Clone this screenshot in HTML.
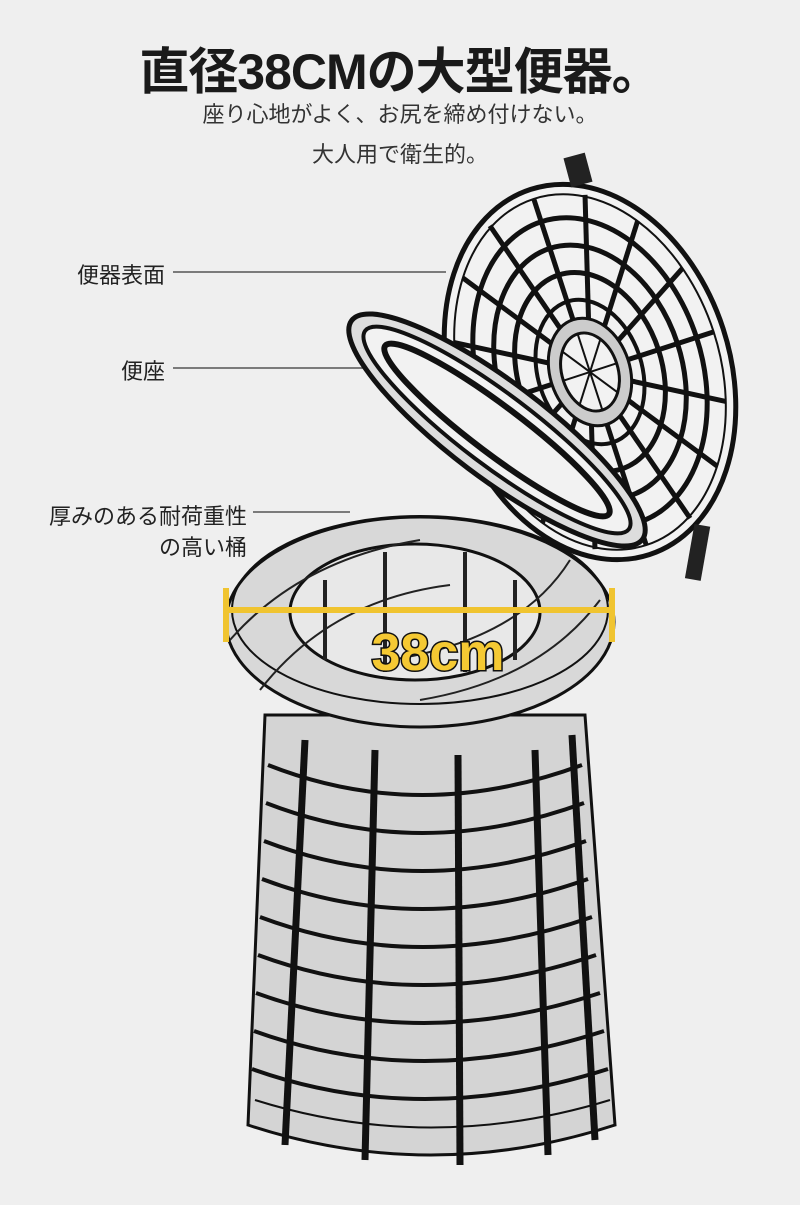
<!DOCTYPE html>
<html><head><meta charset="utf-8">
<style>
html,body{margin:0;padding:0;background:#efefef;}
body{width:800px;height:1205px;position:relative;overflow:hidden;font-family:"Liberation Sans","Noto Sans CJK JP",sans-serif;color:#222;}
.t{position:absolute;white-space:nowrap;}
</style></head><body>
<div class="t" style="left:0;width:800px;text-align:center;top:32px;font-size:50px;font-weight:bold;color:#1a1a1a;letter-spacing:-1px;">直径38CMの大型便器。</div>
<div class="t" style="left:0;width:800px;text-align:center;top:97px;font-size:22px;color:#333;">座り心地がよく、お尻を締め付けない。</div>
<div class="t" style="left:0;width:800px;text-align:center;top:137px;font-size:22px;color:#333;">大人用で衛生的。</div>
<div class="t" style="right:635px;top:258px;font-size:22px;">便器表面</div>
<div class="t" style="right:635px;top:354px;font-size:22px;">便座</div>
<div class="t" style="right:553px;top:499px;font-size:22px;">厚みのある耐荷重性</div>
<div class="t" style="right:553px;top:530px;font-size:22px;">の高い桶</div>
<svg width="800" height="1205" style="position:absolute;left:0;top:0" xmlns="http://www.w3.org/2000/svg">
<g stroke="#555" stroke-width="1.5">
<line x1="173" y1="272" x2="446" y2="272"/>
<line x1="173" y1="368" x2="368" y2="368"/>
<line x1="253" y1="512" x2="350" y2="512"/>
</g>
<!-- bucket body -->
<path d="M265,715 L248,1125 Q430,1185 615,1125 L585,715 Z" fill="#d4d4d4" stroke="#111" stroke-width="3"/>
<path d="M255,1100 Q430,1155 610,1100" fill="none" stroke="#111" stroke-width="2"/>
<g fill="none" stroke="#111" stroke-width="4">
<path d="M268,765 Q420,825 582,765"/>
<path d="M266,803 Q420,863 584,803"/>
<path d="M264,841 Q420,901 586,841"/>
<path d="M262,879 Q420,939 588,879"/>
<path d="M260,917 Q420,977 592,917"/>
<path d="M258,955 Q420,1015 596,955"/>
<path d="M256,993 Q420,1053 600,993"/>
<path d="M254,1031 Q420,1091 604,1031"/>
<path d="M252,1069 Q420,1129 608,1069"/>
</g>
<g stroke="#111" stroke-width="7">
<line x1="305" y1="740" x2="285" y2="1145"/>
<line x1="375" y1="750" x2="365" y2="1160"/>
<line x1="458" y1="755" x2="460" y2="1165"/>
<line x1="535" y1="750" x2="548" y2="1155"/>
<line x1="572" y1="735" x2="595" y2="1140"/>
</g>
<!-- rim -->
<ellipse cx="420" cy="622" rx="194" ry="105" fill="#d8d8d8" stroke="#111" stroke-width="3"/>
<ellipse cx="420" cy="610" rx="188" ry="94" fill="none" stroke="#111" stroke-width="2"/>
<ellipse cx="415" cy="612" rx="125" ry="68" fill="#e8e8e8" stroke="#111" stroke-width="3"/>
<g stroke="#222" stroke-width="4">
<line x1="385" y1="552" x2="385" y2="672"/>
<line x1="465" y1="552" x2="465" y2="672"/>
<line x1="325" y1="580" x2="325" y2="660"/>
<line x1="515" y1="580" x2="515" y2="660"/>
</g>
<g fill="none" stroke="#222" stroke-width="2">
<path d="M230,640 Q300,560 420,540"/>
<path d="M260,690 Q330,600 450,585"/>
<path d="M600,600 Q540,680 420,700"/>
<path d="M570,560 Q520,640 390,660"/>
</g>
<!-- lid -->
<g transform="translate(590,372) rotate(-18)">
<ellipse rx="140" ry="192" fill="#f2f2f2" stroke="#111" stroke-width="5"/>
<ellipse rx="130" ry="182" fill="none" stroke="#111" stroke-width="2"/>
<ellipse rx="112" ry="158" fill="none" stroke="#111" stroke-width="5"/>
<ellipse rx="92" ry="130" fill="none" stroke="#111" stroke-width="5"/>
<ellipse rx="72" ry="102" fill="none" stroke="#111" stroke-width="5"/>
<ellipse rx="52" ry="74" fill="none" stroke="#111" stroke-width="4"/>
<g stroke="#111" stroke-width="5">
<line x1="0" y1="-182" x2="0" y2="182"/>
<line x1="-130" y1="0" x2="130" y2="0"/>
<line x1="-92" y1="-129" x2="92" y2="129"/>
<line x1="92" y1="-129" x2="-92" y2="129"/>
<line x1="-120" y1="-70" x2="120" y2="70"/>
<line x1="120" y1="-70" x2="-120" y2="70"/>
<line x1="-50" y1="-170" x2="50" y2="170"/>
<line x1="50" y1="-170" x2="-50" y2="170"/>
</g>
<ellipse rx="40" ry="55" fill="#ccc" stroke="#111" stroke-width="3"/>
<ellipse rx="28" ry="40" fill="#f2f2f2" stroke="#111" stroke-width="3"/>
<g stroke="#111" stroke-width="2"><line x1="-28" y1="0" x2="28" y2="0"/><line x1="0" y1="-40" x2="0" y2="40"/><line x1="-20" y1="-28" x2="20" y2="28"/><line x1="20" y1="-28" x2="-20" y2="28"/></g>
</g>
<rect x="567" y="155" width="22" height="30" fill="#222" transform="rotate(-15 578 170)"/>
<rect x="690" y="525" width="16" height="55" fill="#222" transform="rotate(10 698 550)"/>
<!-- seat -->
<g transform="translate(497,430) rotate(37)">
<ellipse rx="182" ry="48" fill="#ddd" stroke="#111" stroke-width="5"/>
<ellipse rx="165" ry="36" fill="#f2f2f2" stroke="#111" stroke-width="4"/>
<ellipse rx="140" ry="24" fill="none" stroke="#111" stroke-width="6"/>
</g>
<!-- dimension -->
<g stroke="#f0c430" stroke-width="6">
<line x1="226" y1="610" x2="612" y2="610"/>
<line x1="226" y1="588" x2="226" y2="642"/>
<line x1="612" y1="588" x2="612" y2="642"/>
</g>
<text x="438" y="670" text-anchor="middle" font-family="Liberation Sans, sans-serif" font-weight="bold" font-size="52" fill="#f5c933" stroke="#111" stroke-width="3" paint-order="stroke">38cm</text>
</svg>
</body></html>
